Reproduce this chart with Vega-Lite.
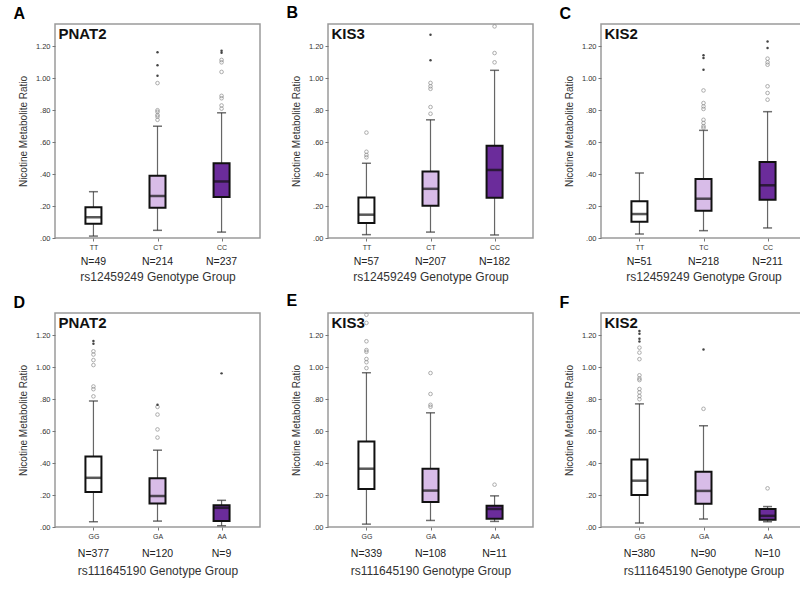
{
  "$schema": "https://vega.github.io/schema/vega-lite/v6.json",
  "background": "white",
  "padding": {"left": 12, "top": 3, "right": 5, "bottom": 5},
  "datasets": {
    "box": [
      {"p": "A", "g": "TT", "k": "1", "n": "N=49", "lo": 0.012, "q1": 0.089, "med": 0.13, "q3": 0.193, "hi": 0.29},
      {"p": "A", "g": "CT", "k": "2", "n": "N=214", "lo": 0.048, "q1": 0.19, "med": 0.263, "q3": 0.39, "hi": 0.7},
      {"p": "A", "g": "CC", "k": "3", "n": "N=237", "lo": 0.037, "q1": 0.257, "med": 0.354, "q3": 0.468, "hi": 0.784},
      {"p": "B", "g": "TT", "k": "1", "n": "N=57", "lo": 0.021, "q1": 0.094, "med": 0.146, "q3": 0.254, "hi": 0.468},
      {"p": "B", "g": "CT", "k": "2", "n": "N=207", "lo": 0.037, "q1": 0.202, "med": 0.308, "q3": 0.416, "hi": 0.74},
      {"p": "B", "g": "CC", "k": "3", "n": "N=182", "lo": 0.019, "q1": 0.252, "med": 0.426, "q3": 0.578, "hi": 1.05},
      {"p": "C", "g": "TT", "k": "1", "n": "N=51", "lo": 0.025, "q1": 0.102, "med": 0.15, "q3": 0.23, "hi": 0.407},
      {"p": "C", "g": "TC", "k": "2", "n": "N=218", "lo": 0.046, "q1": 0.171, "med": 0.246, "q3": 0.369, "hi": 0.674},
      {"p": "C", "g": "CC", "k": "3", "n": "N=211", "lo": 0.063, "q1": 0.24, "med": 0.33, "q3": 0.476, "hi": 0.791},
      {"p": "D", "g": "GG", "k": "1", "n": "N=377", "lo": 0.033, "q1": 0.219, "med": 0.308, "q3": 0.442, "hi": 0.789},
      {"p": "D", "g": "GA", "k": "2", "n": "N=120", "lo": 0.037, "q1": 0.147, "med": 0.194, "q3": 0.306, "hi": 0.481},
      {"p": "D", "g": "AA", "k": "3", "n": "N=9", "lo": 0.008, "q1": 0.037, "med": 0.12, "q3": 0.136, "hi": 0.167},
      {"p": "E", "g": "GG", "k": "1", "n": "N=339", "lo": 0.018, "q1": 0.238, "med": 0.365, "q3": 0.535, "hi": 0.966},
      {"p": "E", "g": "GA", "k": "2", "n": "N=108", "lo": 0.041, "q1": 0.156, "med": 0.228, "q3": 0.365, "hi": 0.715},
      {"p": "E", "g": "AA", "k": "3", "n": "N=11", "lo": 0.035, "q1": 0.051, "med": 0.113, "q3": 0.133, "hi": 0.195},
      {"p": "F", "g": "GG", "k": "1", "n": "N=380", "lo": 0.025, "q1": 0.201, "med": 0.29, "q3": 0.423, "hi": 0.771},
      {"p": "F", "g": "GA", "k": "2", "n": "N=90", "lo": 0.05, "q1": 0.145, "med": 0.226, "q3": 0.346, "hi": 0.634},
      {"p": "F", "g": "AA", "k": "3", "n": "N=10", "lo": 0.033, "q1": 0.046, "med": 0.07, "q3": 0.112, "hi": 0.128}
    ],
    "out": [
      {"p": "A", "g": "CT", "v": 1.163, "e": true}, {"p": "A", "g": "CT", "v": 1.082, "e": true}, {"p": "A", "g": "CT", "v": 1.016, "e": true},
      {"p": "A", "g": "CT", "v": 0.97, "e": false}, {"p": "A", "g": "CT", "v": 0.8, "e": false}, {"p": "A", "g": "CT", "v": 0.79, "e": false},
      {"p": "A", "g": "CT", "v": 0.77, "e": false}, {"p": "A", "g": "CT", "v": 0.76, "e": false}, {"p": "A", "g": "CT", "v": 0.74, "e": false},
      {"p": "A", "g": "CC", "v": 1.173, "e": true}, {"p": "A", "g": "CC", "v": 1.16, "e": true}, {"p": "A", "g": "CC", "v": 1.115, "e": false},
      {"p": "A", "g": "CC", "v": 1.1, "e": false}, {"p": "A", "g": "CC", "v": 1.04, "e": false}, {"p": "A", "g": "CC", "v": 0.89, "e": false},
      {"p": "A", "g": "CC", "v": 0.875, "e": false}, {"p": "A", "g": "CC", "v": 0.83, "e": false}, {"p": "A", "g": "CC", "v": 0.81, "e": false},
      {"p": "B", "g": "TT", "v": 0.66, "e": false}, {"p": "B", "g": "TT", "v": 0.54, "e": false}, {"p": "B", "g": "TT", "v": 0.52, "e": false}, {"p": "B", "g": "TT", "v": 0.505, "e": false},
      {"p": "B", "g": "CT", "v": 1.273, "e": true}, {"p": "B", "g": "CT", "v": 1.113, "e": true}, {"p": "B", "g": "CT", "v": 0.971, "e": false},
      {"p": "B", "g": "CT", "v": 0.95, "e": false}, {"p": "B", "g": "CT", "v": 0.934, "e": false}, {"p": "B", "g": "CT", "v": 0.82, "e": false}, {"p": "B", "g": "CT", "v": 0.778, "e": false},
      {"p": "B", "g": "CC", "v": 1.325, "e": false}, {"p": "B", "g": "CC", "v": 1.158, "e": false}, {"p": "B", "g": "CC", "v": 1.1, "e": false},
      {"p": "C", "g": "TC", "v": 1.144, "e": true}, {"p": "C", "g": "TC", "v": 1.127, "e": true}, {"p": "C", "g": "TC", "v": 1.054, "e": true},
      {"p": "C", "g": "TC", "v": 0.924, "e": false}, {"p": "C", "g": "TC", "v": 0.845, "e": false}, {"p": "C", "g": "TC", "v": 0.824, "e": false},
      {"p": "C", "g": "TC", "v": 0.808, "e": false}, {"p": "C", "g": "TC", "v": 0.74, "e": false}, {"p": "C", "g": "TC", "v": 0.72, "e": false},
      {"p": "C", "g": "TC", "v": 0.7, "e": false}, {"p": "C", "g": "TC", "v": 0.69, "e": false},
      {"p": "C", "g": "CC", "v": 1.231, "e": true}, {"p": "C", "g": "CC", "v": 1.19, "e": true}, {"p": "C", "g": "CC", "v": 1.123, "e": false},
      {"p": "C", "g": "CC", "v": 1.1, "e": false}, {"p": "C", "g": "CC", "v": 1.085, "e": false}, {"p": "C", "g": "CC", "v": 0.95, "e": false},
      {"p": "C", "g": "CC", "v": 0.908, "e": false}, {"p": "C", "g": "CC", "v": 0.866, "e": false},
      {"p": "D", "g": "GG", "v": 1.165, "e": true}, {"p": "D", "g": "GG", "v": 1.148, "e": true}, {"p": "D", "g": "GG", "v": 1.1, "e": false},
      {"p": "D", "g": "GG", "v": 1.08, "e": false}, {"p": "D", "g": "GG", "v": 1.045, "e": false}, {"p": "D", "g": "GG", "v": 1.014, "e": false},
      {"p": "D", "g": "GG", "v": 0.88, "e": false}, {"p": "D", "g": "GG", "v": 0.863, "e": false}, {"p": "D", "g": "GG", "v": 0.818, "e": false},
      {"p": "D", "g": "GA", "v": 0.766, "e": true}, {"p": "D", "g": "GA", "v": 0.752, "e": false}, {"p": "D", "g": "GA", "v": 0.704, "e": false},
      {"p": "D", "g": "GA", "v": 0.611, "e": false}, {"p": "D", "g": "GA", "v": 0.56, "e": false},
      {"p": "D", "g": "AA", "v": 0.962, "e": true},
      {"p": "E", "g": "GG", "v": 1.329, "e": false}, {"p": "E", "g": "GG", "v": 1.278, "e": false}, {"p": "E", "g": "GG", "v": 1.163, "e": false},
      {"p": "E", "g": "GG", "v": 1.108, "e": false}, {"p": "E", "g": "GG", "v": 1.097, "e": false}, {"p": "E", "g": "GG", "v": 1.052, "e": false},
      {"p": "E", "g": "GG", "v": 1.032, "e": false}, {"p": "E", "g": "GG", "v": 0.995, "e": false},
      {"p": "E", "g": "GA", "v": 0.964, "e": false}, {"p": "E", "g": "GA", "v": 0.833, "e": false}, {"p": "E", "g": "GA", "v": 0.765, "e": false}, {"p": "E", "g": "GA", "v": 0.753, "e": false},
      {"p": "E", "g": "AA", "v": 0.265, "e": false},
      {"p": "F", "g": "GG", "v": 1.227, "e": true}, {"p": "F", "g": "GG", "v": 1.21, "e": true}, {"p": "F", "g": "GG", "v": 1.179, "e": true},
      {"p": "F", "g": "GG", "v": 1.161, "e": true}, {"p": "F", "g": "GG", "v": 1.123, "e": false}, {"p": "F", "g": "GG", "v": 1.092, "e": false},
      {"p": "F", "g": "GG", "v": 1.051, "e": false}, {"p": "F", "g": "GG", "v": 0.95, "e": false}, {"p": "F", "g": "GG", "v": 0.93, "e": false},
      {"p": "F", "g": "GG", "v": 0.92, "e": false}, {"p": "F", "g": "GG", "v": 0.864, "e": false}, {"p": "F", "g": "GG", "v": 0.843, "e": false},
      {"p": "F", "g": "GG", "v": 0.82, "e": false}, {"p": "F", "g": "GG", "v": 0.8, "e": false},
      {"p": "F", "g": "GA", "v": 1.111, "e": true}, {"p": "F", "g": "GA", "v": 0.74, "e": false},
      {"p": "F", "g": "AA", "v": 0.242, "e": false}
    ],
    "names": [
      {"p": "A", "g": "TT", "name": "PNAT2"},
      {"p": "B", "g": "TT", "name": "KIS3"},
      {"p": "C", "g": "TT", "name": "KIS2"},
      {"p": "D", "g": "GG", "name": "PNAT2"},
      {"p": "E", "g": "GG", "name": "KIS3"},
      {"p": "F", "g": "GG", "name": "KIS2"}
    ]
  },
  "columns": 3,
  "spacing": {"row": 9, "column": 24},
  "resolve": {"scale": {"x": "independent", "y": "independent"}, "axis": {"x": "independent", "y": "independent"}},
  "concat": [
    {
      "width": 205, "height": 214,
      "title": {"text": "A"},
      "data": {"name": "box"},
      "transform": [{"filter": "datum.p === 'A'"}],
      "encoding": {"x": {"field": "g", "type": "nominal", "scale": {"type": "point", "domain": ["TT", "CT", "CC"], "padding": 0.6}, "axis": {"title": "rs12459249 Genotype Group", "titlePadding": 21}}},
      "layer": [
        {"mark": {"type": "rule", "color": "#666", "strokeWidth": 1.2}, "encoding": {"y": {"field": "lo", "type": "quantitative", "scale": {"domain": [0, 1.34], "nice": false, "zero": false}, "axis": {"title": "Nicotine Metabolite Ratio", "values": [0, 0.2, 0.4, 0.6, 0.8, 1, 1.2], "tickCount": 7, "labelOverlap": false, "labelExpr": "datum.value < 1 ? slice(format(datum.value, '.2f'), 1) : format(datum.value, '.2f')"}}, "y2": {"field": "hi"}}},
        {"mark": {"type": "tick", "size": 9, "thickness": 1.5, "color": "#333"}, "encoding": {"y": {"field": "lo", "type": "quantitative"}}},
        {"mark": {"type": "tick", "size": 9, "thickness": 1.5, "color": "#333"}, "encoding": {"y": {"field": "hi", "type": "quantitative"}}},
        {"mark": {"type": "bar", "width": 16, "stroke": "#111", "strokeWidth": 2}, "encoding": {"y": {"field": "q1", "type": "quantitative"}, "y2": {"field": "q3"}, "fill": {"field": "k", "type": "nominal", "scale": {"domain": ["1", "2", "3"], "range": ["#ffffff", "#d8bce8", "#6b2c9b"]}, "legend": null}}},
        {"mark": {"type": "tick", "size": 16, "thickness": 2.5, "color": "#111"}, "encoding": {"y": {"field": "med", "type": "quantitative"}}},
        {"mark": {"type": "text", "fontSize": 10.5, "baseline": "middle", "color": "#222"}, "encoding": {"y": {"datum": -0.15, "type": "quantitative"}, "text": {"field": "n"}}},
        {"data": {"name": "out"}, "transform": [{"filter": "datum.p === 'A' && !datum.e"}], "mark": {"type": "point", "shape": "circle", "filled": false, "size": 13, "stroke": "#888", "strokeWidth": 1}, "encoding": {"y": {"field": "v", "type": "quantitative"}}},
        {"data": {"name": "out"}, "transform": [{"filter": "datum.p === 'A' && datum.e"}], "mark": {"type": "point", "shape": "circle", "filled": true, "size": 6, "color": "#444", "opacity": 1}, "encoding": {"y": {"field": "v", "type": "quantitative"}}},
        {"data": {"name": "names"}, "transform": [{"filter": "datum.p === 'A'"}], "mark": {"type": "text", "fontSize": 15, "fontWeight": "bold", "align": "left", "baseline": "middle", "dx": -35, "color": "#111"}, "encoding": {"y": {"datum": 1.28, "type": "quantitative"}, "text": {"field": "name"}}}
      ]
    },
    {
      "width": 205, "height": 214,
      "title": {"text": "B"},
      "data": {"name": "box"},
      "transform": [{"filter": "datum.p === 'B'"}],
      "encoding": {"x": {"field": "g", "type": "nominal", "scale": {"type": "point", "domain": ["TT", "CT", "CC"], "padding": 0.6}, "axis": {"title": "rs12459249 Genotype Group", "titlePadding": 21}}},
      "layer": [
        {"mark": {"type": "rule", "color": "#666", "strokeWidth": 1.2}, "encoding": {"y": {"field": "lo", "type": "quantitative", "scale": {"domain": [0, 1.34], "nice": false, "zero": false}, "axis": {"title": "Nicotine Metabolite Ratio", "values": [0, 0.2, 0.4, 0.6, 0.8, 1, 1.2], "tickCount": 7, "labelOverlap": false, "labelExpr": "datum.value < 1 ? slice(format(datum.value, '.2f'), 1) : format(datum.value, '.2f')"}}, "y2": {"field": "hi"}}},
        {"mark": {"type": "tick", "size": 9, "thickness": 1.5, "color": "#333"}, "encoding": {"y": {"field": "lo", "type": "quantitative"}}},
        {"mark": {"type": "tick", "size": 9, "thickness": 1.5, "color": "#333"}, "encoding": {"y": {"field": "hi", "type": "quantitative"}}},
        {"mark": {"type": "bar", "width": 16, "stroke": "#111", "strokeWidth": 2}, "encoding": {"y": {"field": "q1", "type": "quantitative"}, "y2": {"field": "q3"}, "fill": {"field": "k", "type": "nominal", "scale": {"domain": ["1", "2", "3"], "range": ["#ffffff", "#d8bce8", "#6b2c9b"]}, "legend": null}}},
        {"mark": {"type": "tick", "size": 16, "thickness": 2.5, "color": "#111"}, "encoding": {"y": {"field": "med", "type": "quantitative"}}},
        {"mark": {"type": "text", "fontSize": 10.5, "baseline": "middle", "color": "#222"}, "encoding": {"y": {"datum": -0.15, "type": "quantitative"}, "text": {"field": "n"}}},
        {"data": {"name": "out"}, "transform": [{"filter": "datum.p === 'B' && !datum.e"}], "mark": {"type": "point", "shape": "circle", "filled": false, "size": 13, "stroke": "#888", "strokeWidth": 1}, "encoding": {"y": {"field": "v", "type": "quantitative"}}},
        {"data": {"name": "out"}, "transform": [{"filter": "datum.p === 'B' && datum.e"}], "mark": {"type": "point", "shape": "circle", "filled": true, "size": 6, "color": "#444", "opacity": 1}, "encoding": {"y": {"field": "v", "type": "quantitative"}}},
        {"data": {"name": "names"}, "transform": [{"filter": "datum.p === 'B'"}], "mark": {"type": "text", "fontSize": 15, "fontWeight": "bold", "align": "left", "baseline": "middle", "dx": -35, "color": "#111"}, "encoding": {"y": {"datum": 1.28, "type": "quantitative"}, "text": {"field": "name"}}}
      ]
    },
    {
      "width": 205, "height": 214,
      "title": {"text": "C"},
      "data": {"name": "box"},
      "transform": [{"filter": "datum.p === 'C'"}],
      "encoding": {"x": {"field": "g", "type": "nominal", "scale": {"type": "point", "domain": ["TT", "TC", "CC"], "padding": 0.6}, "axis": {"title": "rs12459249 Genotype Group", "titlePadding": 21}}},
      "layer": [
        {"mark": {"type": "rule", "color": "#666", "strokeWidth": 1.2}, "encoding": {"y": {"field": "lo", "type": "quantitative", "scale": {"domain": [0, 1.34], "nice": false, "zero": false}, "axis": {"title": "Nicotine Metabolite Ratio", "values": [0, 0.2, 0.4, 0.6, 0.8, 1, 1.2], "tickCount": 7, "labelOverlap": false, "labelExpr": "datum.value < 1 ? slice(format(datum.value, '.2f'), 1) : format(datum.value, '.2f')"}}, "y2": {"field": "hi"}}},
        {"mark": {"type": "tick", "size": 9, "thickness": 1.5, "color": "#333"}, "encoding": {"y": {"field": "lo", "type": "quantitative"}}},
        {"mark": {"type": "tick", "size": 9, "thickness": 1.5, "color": "#333"}, "encoding": {"y": {"field": "hi", "type": "quantitative"}}},
        {"mark": {"type": "bar", "width": 16, "stroke": "#111", "strokeWidth": 2}, "encoding": {"y": {"field": "q1", "type": "quantitative"}, "y2": {"field": "q3"}, "fill": {"field": "k", "type": "nominal", "scale": {"domain": ["1", "2", "3"], "range": ["#ffffff", "#d8bce8", "#6b2c9b"]}, "legend": null}}},
        {"mark": {"type": "tick", "size": 16, "thickness": 2.5, "color": "#111"}, "encoding": {"y": {"field": "med", "type": "quantitative"}}},
        {"mark": {"type": "text", "fontSize": 10.5, "baseline": "middle", "color": "#222"}, "encoding": {"y": {"datum": -0.15, "type": "quantitative"}, "text": {"field": "n"}}},
        {"data": {"name": "out"}, "transform": [{"filter": "datum.p === 'C' && !datum.e"}], "mark": {"type": "point", "shape": "circle", "filled": false, "size": 13, "stroke": "#888", "strokeWidth": 1}, "encoding": {"y": {"field": "v", "type": "quantitative"}}},
        {"data": {"name": "out"}, "transform": [{"filter": "datum.p === 'C' && datum.e"}], "mark": {"type": "point", "shape": "circle", "filled": true, "size": 6, "color": "#444", "opacity": 1}, "encoding": {"y": {"field": "v", "type": "quantitative"}}},
        {"data": {"name": "names"}, "transform": [{"filter": "datum.p === 'C'"}], "mark": {"type": "text", "fontSize": 15, "fontWeight": "bold", "align": "left", "baseline": "middle", "dx": -35, "color": "#111"}, "encoding": {"y": {"datum": 1.28, "type": "quantitative"}, "text": {"field": "name"}}}
      ]
    },
    {
      "width": 205, "height": 214,
      "title": {"text": "D"},
      "data": {"name": "box"},
      "transform": [{"filter": "datum.p === 'D'"}],
      "encoding": {"x": {"field": "g", "type": "nominal", "scale": {"type": "point", "domain": ["GG", "GA", "AA"], "padding": 0.6}, "axis": {"title": "rs111645190 Genotype Group", "titlePadding": 26}}},
      "layer": [
        {"mark": {"type": "rule", "color": "#666", "strokeWidth": 1.2}, "encoding": {"y": {"field": "lo", "type": "quantitative", "scale": {"domain": [0, 1.34], "nice": false, "zero": false}, "axis": {"title": "Nicotine Metabolite Ratio", "values": [0, 0.2, 0.4, 0.6, 0.8, 1, 1.2], "tickCount": 7, "labelOverlap": false, "labelExpr": "datum.value < 1 ? slice(format(datum.value, '.2f'), 1) : format(datum.value, '.2f')"}}, "y2": {"field": "hi"}}},
        {"mark": {"type": "tick", "size": 9, "thickness": 1.5, "color": "#333"}, "encoding": {"y": {"field": "lo", "type": "quantitative"}}},
        {"mark": {"type": "tick", "size": 9, "thickness": 1.5, "color": "#333"}, "encoding": {"y": {"field": "hi", "type": "quantitative"}}},
        {"mark": {"type": "bar", "width": 16, "stroke": "#111", "strokeWidth": 2}, "encoding": {"y": {"field": "q1", "type": "quantitative"}, "y2": {"field": "q3"}, "fill": {"field": "k", "type": "nominal", "scale": {"domain": ["1", "2", "3"], "range": ["#ffffff", "#d8bce8", "#6b2c9b"]}, "legend": null}}},
        {"mark": {"type": "tick", "size": 16, "thickness": 2.5, "color": "#111"}, "encoding": {"y": {"field": "med", "type": "quantitative"}}},
        {"mark": {"type": "text", "fontSize": 10.5, "baseline": "middle", "color": "#222"}, "encoding": {"y": {"datum": -0.17, "type": "quantitative"}, "text": {"field": "n"}}},
        {"data": {"name": "out"}, "transform": [{"filter": "datum.p === 'D' && !datum.e"}], "mark": {"type": "point", "shape": "circle", "filled": false, "size": 13, "stroke": "#888", "strokeWidth": 1}, "encoding": {"y": {"field": "v", "type": "quantitative"}}},
        {"data": {"name": "out"}, "transform": [{"filter": "datum.p === 'D' && datum.e"}], "mark": {"type": "point", "shape": "circle", "filled": true, "size": 6, "color": "#444", "opacity": 1}, "encoding": {"y": {"field": "v", "type": "quantitative"}}},
        {"data": {"name": "names"}, "transform": [{"filter": "datum.p === 'D'"}], "mark": {"type": "text", "fontSize": 15, "fontWeight": "bold", "align": "left", "baseline": "middle", "dx": -35, "color": "#111"}, "encoding": {"y": {"datum": 1.28, "type": "quantitative"}, "text": {"field": "name"}}}
      ]
    },
    {
      "width": 205, "height": 214,
      "title": {"text": "E"},
      "data": {"name": "box"},
      "transform": [{"filter": "datum.p === 'E'"}],
      "encoding": {"x": {"field": "g", "type": "nominal", "scale": {"type": "point", "domain": ["GG", "GA", "AA"], "padding": 0.6}, "axis": {"title": "rs111645190 Genotype Group", "titlePadding": 26}}},
      "layer": [
        {"mark": {"type": "rule", "color": "#666", "strokeWidth": 1.2}, "encoding": {"y": {"field": "lo", "type": "quantitative", "scale": {"domain": [0, 1.34], "nice": false, "zero": false}, "axis": {"title": "Nicotine Metabolite Ratio", "values": [0, 0.2, 0.4, 0.6, 0.8, 1, 1.2], "tickCount": 7, "labelOverlap": false, "labelExpr": "datum.value < 1 ? slice(format(datum.value, '.2f'), 1) : format(datum.value, '.2f')"}}, "y2": {"field": "hi"}}},
        {"mark": {"type": "tick", "size": 9, "thickness": 1.5, "color": "#333"}, "encoding": {"y": {"field": "lo", "type": "quantitative"}}},
        {"mark": {"type": "tick", "size": 9, "thickness": 1.5, "color": "#333"}, "encoding": {"y": {"field": "hi", "type": "quantitative"}}},
        {"mark": {"type": "bar", "width": 16, "stroke": "#111", "strokeWidth": 2}, "encoding": {"y": {"field": "q1", "type": "quantitative"}, "y2": {"field": "q3"}, "fill": {"field": "k", "type": "nominal", "scale": {"domain": ["1", "2", "3"], "range": ["#ffffff", "#d8bce8", "#6b2c9b"]}, "legend": null}}},
        {"mark": {"type": "tick", "size": 16, "thickness": 2.5, "color": "#111"}, "encoding": {"y": {"field": "med", "type": "quantitative"}}},
        {"mark": {"type": "text", "fontSize": 10.5, "baseline": "middle", "color": "#222"}, "encoding": {"y": {"datum": -0.17, "type": "quantitative"}, "text": {"field": "n"}}},
        {"data": {"name": "out"}, "transform": [{"filter": "datum.p === 'E' && !datum.e"}], "mark": {"type": "point", "shape": "circle", "filled": false, "size": 13, "stroke": "#888", "strokeWidth": 1}, "encoding": {"y": {"field": "v", "type": "quantitative"}}},
        {"data": {"name": "out"}, "transform": [{"filter": "datum.p === 'E' && datum.e"}], "mark": {"type": "point", "shape": "circle", "filled": true, "size": 6, "color": "#444", "opacity": 1}, "encoding": {"y": {"field": "v", "type": "quantitative"}}},
        {"data": {"name": "names"}, "transform": [{"filter": "datum.p === 'E'"}], "mark": {"type": "text", "fontSize": 15, "fontWeight": "bold", "align": "left", "baseline": "middle", "dx": -35, "color": "#111"}, "encoding": {"y": {"datum": 1.28, "type": "quantitative"}, "text": {"field": "name"}}}
      ]
    },
    {
      "width": 205, "height": 214,
      "title": {"text": "F"},
      "data": {"name": "box"},
      "transform": [{"filter": "datum.p === 'F'"}],
      "encoding": {"x": {"field": "g", "type": "nominal", "scale": {"type": "point", "domain": ["GG", "GA", "AA"], "padding": 0.6}, "axis": {"title": "rs111645190 Genotype Group", "titlePadding": 26}}},
      "layer": [
        {"mark": {"type": "rule", "color": "#666", "strokeWidth": 1.2}, "encoding": {"y": {"field": "lo", "type": "quantitative", "scale": {"domain": [0, 1.34], "nice": false, "zero": false}, "axis": {"title": "Nicotine Metabolite Ratio", "values": [0, 0.2, 0.4, 0.6, 0.8, 1, 1.2], "tickCount": 7, "labelOverlap": false, "labelExpr": "datum.value < 1 ? slice(format(datum.value, '.2f'), 1) : format(datum.value, '.2f')"}}, "y2": {"field": "hi"}}},
        {"mark": {"type": "tick", "size": 9, "thickness": 1.5, "color": "#333"}, "encoding": {"y": {"field": "lo", "type": "quantitative"}}},
        {"mark": {"type": "tick", "size": 9, "thickness": 1.5, "color": "#333"}, "encoding": {"y": {"field": "hi", "type": "quantitative"}}},
        {"mark": {"type": "bar", "width": 16, "stroke": "#111", "strokeWidth": 2}, "encoding": {"y": {"field": "q1", "type": "quantitative"}, "y2": {"field": "q3"}, "fill": {"field": "k", "type": "nominal", "scale": {"domain": ["1", "2", "3"], "range": ["#ffffff", "#d8bce8", "#6b2c9b"]}, "legend": null}}},
        {"mark": {"type": "tick", "size": 16, "thickness": 2.5, "color": "#111"}, "encoding": {"y": {"field": "med", "type": "quantitative"}}},
        {"mark": {"type": "text", "fontSize": 10.5, "baseline": "middle", "color": "#222"}, "encoding": {"y": {"datum": -0.17, "type": "quantitative"}, "text": {"field": "n"}}},
        {"data": {"name": "out"}, "transform": [{"filter": "datum.p === 'F' && !datum.e"}], "mark": {"type": "point", "shape": "circle", "filled": false, "size": 13, "stroke": "#888", "strokeWidth": 1}, "encoding": {"y": {"field": "v", "type": "quantitative"}}},
        {"data": {"name": "out"}, "transform": [{"filter": "datum.p === 'F' && datum.e"}], "mark": {"type": "point", "shape": "circle", "filled": true, "size": 6, "color": "#444", "opacity": 1}, "encoding": {"y": {"field": "v", "type": "quantitative"}}},
        {"data": {"name": "names"}, "transform": [{"filter": "datum.p === 'F'"}], "mark": {"type": "text", "fontSize": 15, "fontWeight": "bold", "align": "left", "baseline": "middle", "dx": -35, "color": "#111"}, "encoding": {"y": {"datum": 1.28, "type": "quantitative"}, "text": {"field": "name"}}}
      ]
    }
  ],
  "config": {
    "font": "Liberation Sans",
    "view": {"stroke": "#9a9a9a", "strokeWidth": 1.5},
    "axis": {"grid": false, "domain": false, "tickColor": "#777", "tickSize": 3, "labelFontSize": 7, "labelColor": "#333", "titleFontWeight": "normal", "titleColor": "#333", "labelPadding": 2, "labelOverlap": false},
    "axisY": {"titleFontSize": 10, "titlePadding": 7, "labelFontSize": 7.5, "labelOverlap": false},
    "axisQuantitative": {"labelOverlap": false},
    "axisX": {"labelAngle": 0, "titleFontSize": 12},
    "title": {"anchor": "start", "frame": "bounds", "fontSize": 16, "fontWeight": "bold", "offset": 2, "color": "#000", "dx": -5}
  }
}
